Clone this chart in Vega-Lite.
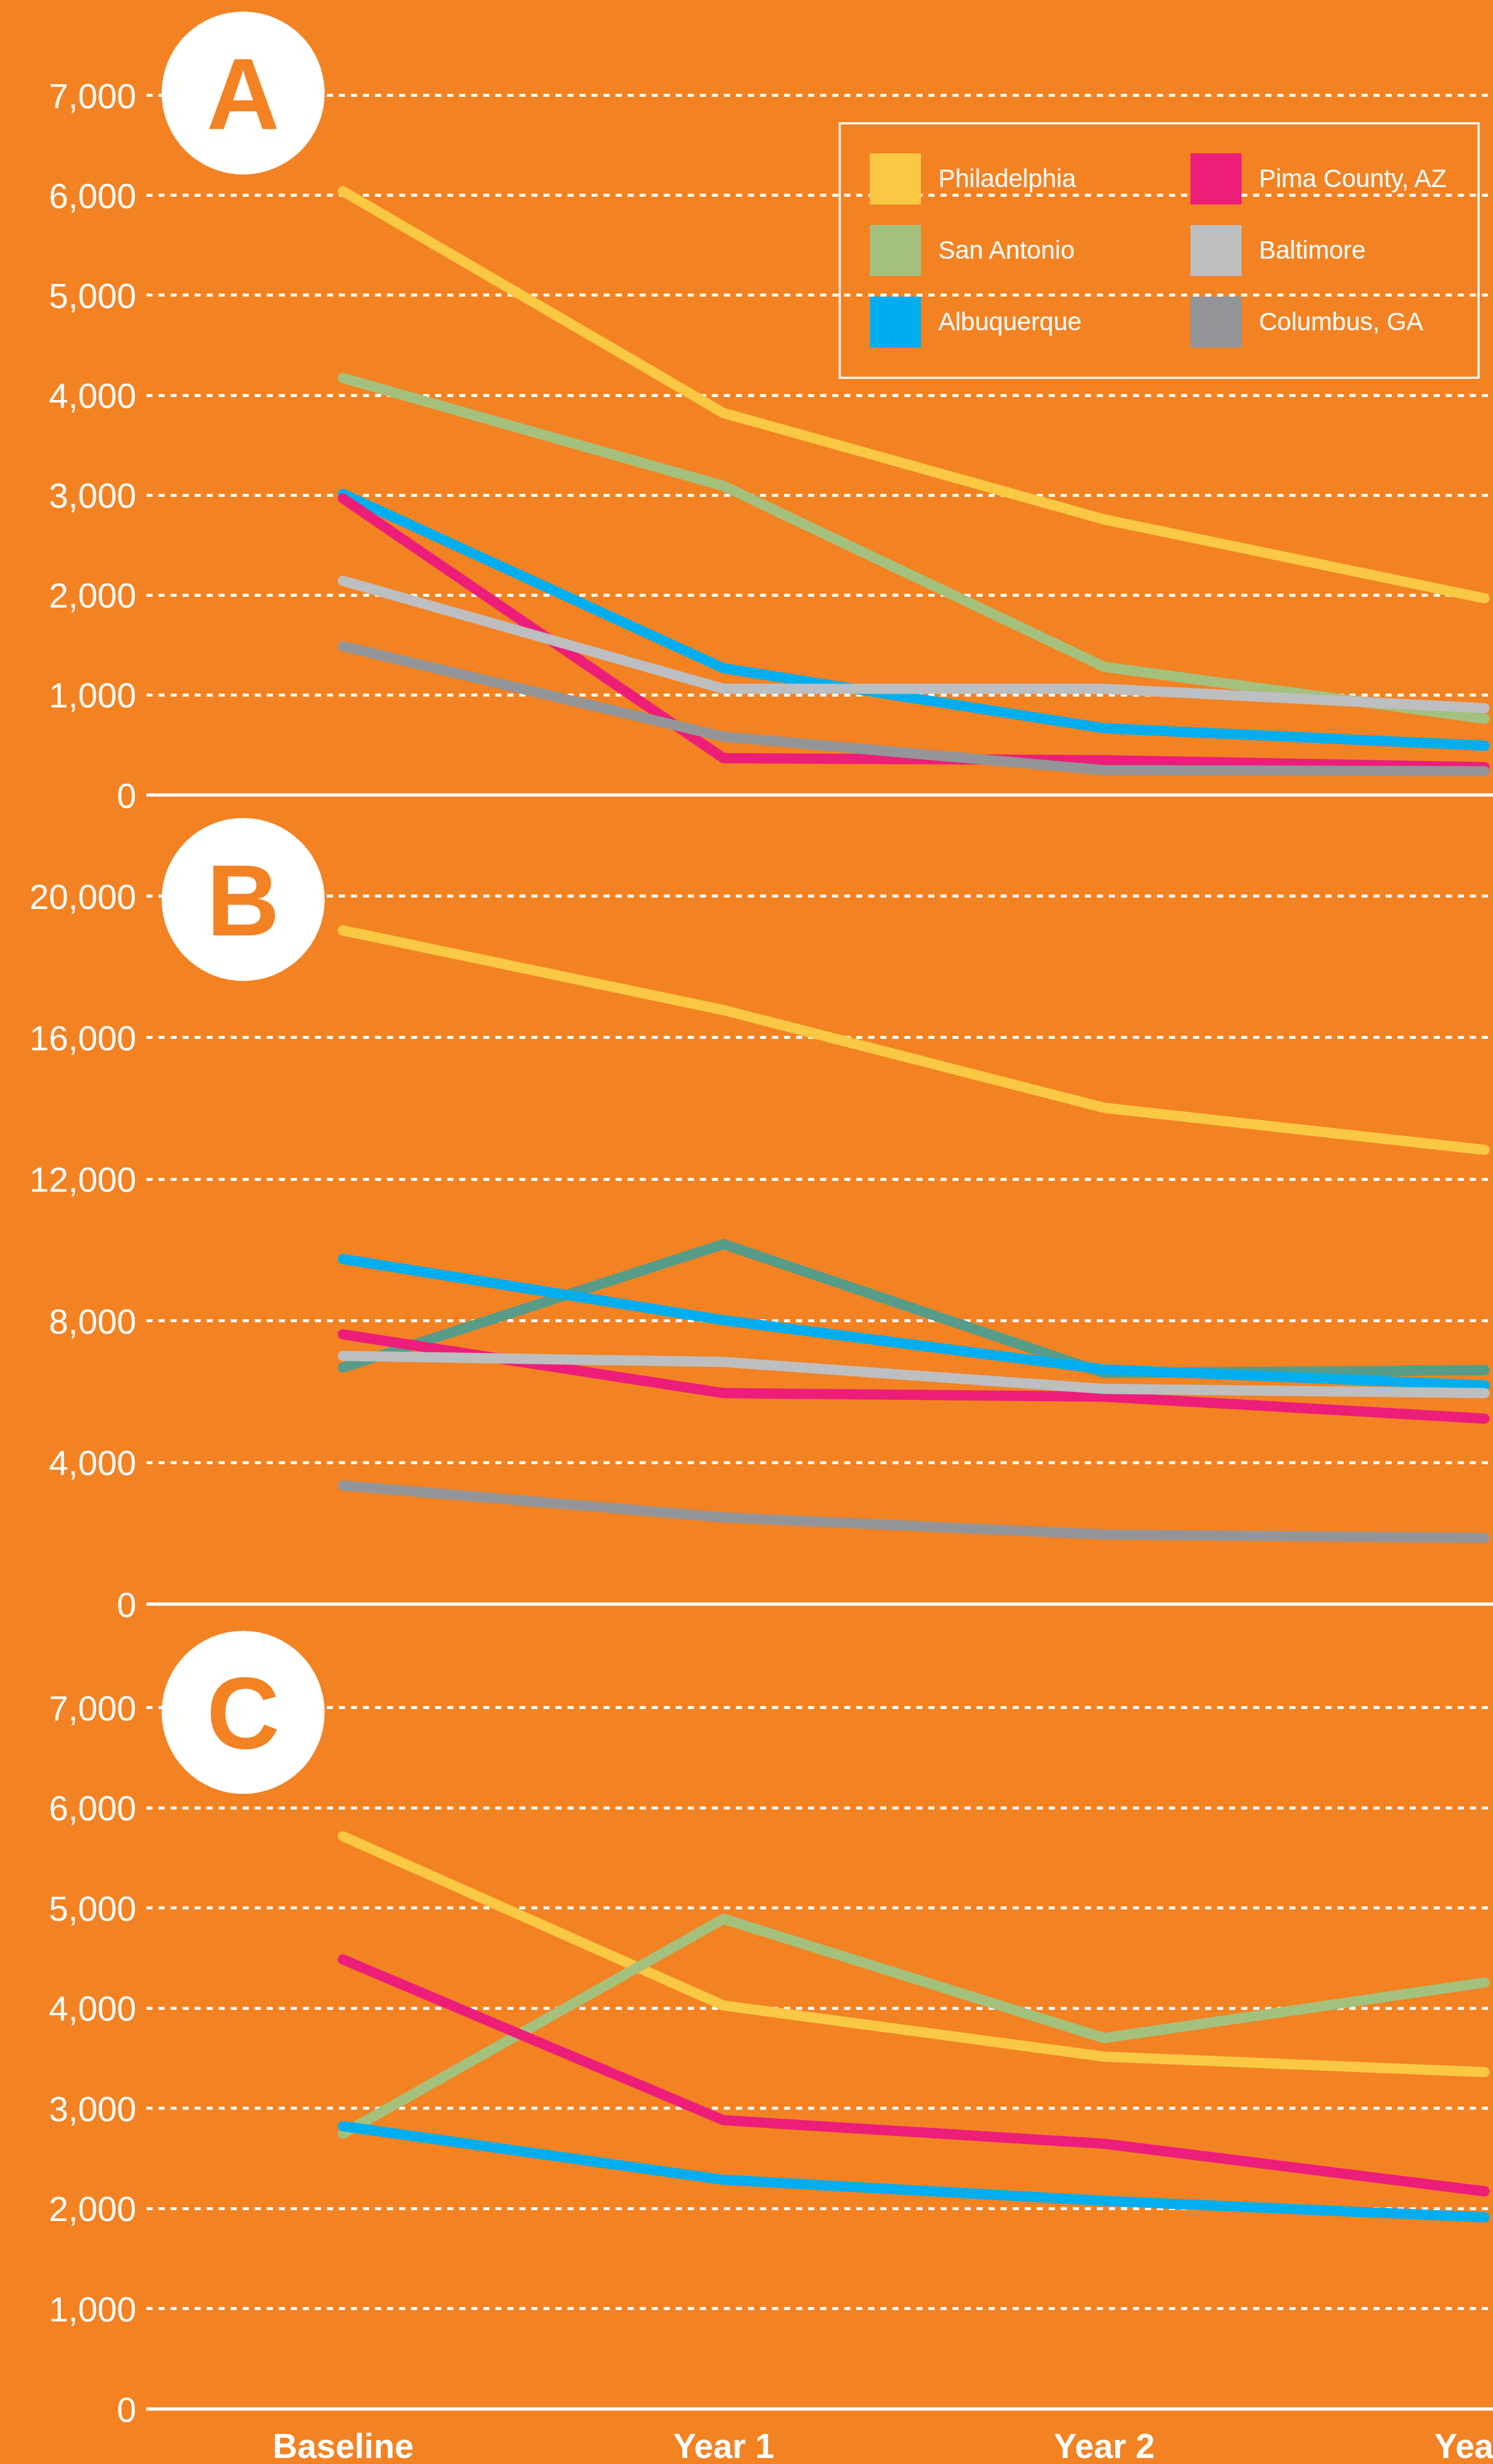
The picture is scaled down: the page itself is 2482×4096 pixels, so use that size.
{
  "$schema": "https://vega.github.io/schema/vega-lite/v6.json",
  "background": "#F38223",
  "padding": {"left": 48, "top": 0, "right": 0, "bottom": 0},
  "bounds": "flush",
  "spacing": 0,
  "data": {"values": [
    {"panel": "A", "city": "Philadelphia", "year": 0, "value": 6040},
    {"panel": "A", "city": "Philadelphia", "year": 1, "value": 3820},
    {"panel": "A", "city": "Philadelphia", "year": 2, "value": 2755},
    {"panel": "A", "city": "Philadelphia", "year": 3, "value": 1965},
    {"panel": "A", "city": "San Antonio", "year": 0, "value": 4170},
    {"panel": "A", "city": "San Antonio", "year": 1, "value": 3090},
    {"panel": "A", "city": "San Antonio", "year": 2, "value": 1280},
    {"panel": "A", "city": "San Antonio", "year": 3, "value": 760},
    {"panel": "A", "city": "Albuquerque", "year": 0, "value": 3010},
    {"panel": "A", "city": "Albuquerque", "year": 1, "value": 1265},
    {"panel": "A", "city": "Albuquerque", "year": 2, "value": 665},
    {"panel": "A", "city": "Albuquerque", "year": 3, "value": 490},
    {"panel": "A", "city": "Pima County, AZ", "year": 0, "value": 2965},
    {"panel": "A", "city": "Pima County, AZ", "year": 1, "value": 365},
    {"panel": "A", "city": "Pima County, AZ", "year": 2, "value": 345},
    {"panel": "A", "city": "Pima County, AZ", "year": 3, "value": 275},
    {"panel": "A", "city": "Baltimore", "year": 0, "value": 2140},
    {"panel": "A", "city": "Baltimore", "year": 1, "value": 1060},
    {"panel": "A", "city": "Baltimore", "year": 2, "value": 1060},
    {"panel": "A", "city": "Baltimore", "year": 3, "value": 865},
    {"panel": "A", "city": "Columbus, GA", "year": 0, "value": 1485},
    {"panel": "A", "city": "Columbus, GA", "year": 1, "value": 580},
    {"panel": "A", "city": "Columbus, GA", "year": 2, "value": 245},
    {"panel": "A", "city": "Columbus, GA", "year": 3, "value": 235},
    {"panel": "B", "city": "Philadelphia", "year": 0, "value": 19020},
    {"panel": "B", "city": "Philadelphia", "year": 1, "value": 16770},
    {"panel": "B", "city": "Philadelphia", "year": 2, "value": 14010},
    {"panel": "B", "city": "Philadelphia", "year": 3, "value": 12820},
    {"panel": "B", "city": "San Antonio", "year": 0, "value": 6670},
    {"panel": "B", "city": "San Antonio", "year": 1, "value": 10160},
    {"panel": "B", "city": "San Antonio", "year": 2, "value": 6520},
    {"panel": "B", "city": "San Antonio", "year": 3, "value": 6600},
    {"panel": "B", "city": "Albuquerque", "year": 0, "value": 9740},
    {"panel": "B", "city": "Albuquerque", "year": 1, "value": 8010},
    {"panel": "B", "city": "Albuquerque", "year": 2, "value": 6620},
    {"panel": "B", "city": "Albuquerque", "year": 3, "value": 6170},
    {"panel": "B", "city": "Pima County, AZ", "year": 0, "value": 7610},
    {"panel": "B", "city": "Pima County, AZ", "year": 1, "value": 5950},
    {"panel": "B", "city": "Pima County, AZ", "year": 2, "value": 5850},
    {"panel": "B", "city": "Pima County, AZ", "year": 3, "value": 5230},
    {"panel": "B", "city": "Baltimore", "year": 0, "value": 7000},
    {"panel": "B", "city": "Baltimore", "year": 1, "value": 6830},
    {"panel": "B", "city": "Baltimore", "year": 2, "value": 6070},
    {"panel": "B", "city": "Baltimore", "year": 3, "value": 5950},
    {"panel": "B", "city": "Columbus, GA", "year": 0, "value": 3340},
    {"panel": "B", "city": "Columbus, GA", "year": 1, "value": 2440},
    {"panel": "B", "city": "Columbus, GA", "year": 2, "value": 1955},
    {"panel": "B", "city": "Columbus, GA", "year": 3, "value": 1860},
    {"panel": "C", "city": "Philadelphia", "year": 0, "value": 5715},
    {"panel": "C", "city": "Philadelphia", "year": 1, "value": 4025},
    {"panel": "C", "city": "Philadelphia", "year": 2, "value": 3515},
    {"panel": "C", "city": "Philadelphia", "year": 3, "value": 3360},
    {"panel": "C", "city": "San Antonio", "year": 0, "value": 2745},
    {"panel": "C", "city": "San Antonio", "year": 1, "value": 4890},
    {"panel": "C", "city": "San Antonio", "year": 2, "value": 3700},
    {"panel": "C", "city": "San Antonio", "year": 3, "value": 4255},
    {"panel": "C", "city": "Albuquerque", "year": 0, "value": 2820},
    {"panel": "C", "city": "Albuquerque", "year": 1, "value": 2285},
    {"panel": "C", "city": "Albuquerque", "year": 2, "value": 2075},
    {"panel": "C", "city": "Albuquerque", "year": 3, "value": 1910},
    {"panel": "C", "city": "Pima County, AZ", "year": 0, "value": 4485},
    {"panel": "C", "city": "Pima County, AZ", "year": 1, "value": 2880},
    {"panel": "C", "city": "Pima County, AZ", "year": 2, "value": 2645},
    {"panel": "C", "city": "Pima County, AZ", "year": 3, "value": 2170}
  ]},
  "resolve": {"scale": {"y": "independent", "color": "independent"}, "legend": {"color": "independent"}},
  "vconcat": [
    {
      "width": 2240, "height": 1321,
      "layer": [
        {
          "transform": [{"filter": "datum.panel === 'A'"}],
          "mark": {"type": "line", "strokeWidth": 17, "strokeCap": "round", "strokeJoin": "miter"},
          "encoding": {
            "x": {"field": "year", "type": "quantitative", "scale": {"domain": [-0.5168, 3.0237], "nice": false, "zero": false},
                  "axis": {"title": null, "labels": false, "ticks": false, "grid": false, "domain": true, "domainColor": "white", "domainWidth": 5.5}},
            "y": {"field": "value", "type": "quantitative", "scale": {"domain": [0, 7953], "nice": false},
                  "axis": {"title": null, "values": [0, 1000, 2000, 3000, 4000, 5000, 6000, 7000], "format": ",d", "grid": true, "gridColor": "white", "gridWidth": 5, "gridDash": [10, 10], "domain": false, "ticks": false, "tickSize": 0, "labelFont": "Liberation Sans", "labelFontSize": 58, "labelColor": "white", "labelPadding": 17, "labelOffset": 4}},
            "color": {"field": "city", "type": "nominal",
                      "scale": {"domain": ["Philadelphia", "San Antonio", "Albuquerque", "Pima County, AZ", "Baltimore", "Columbus, GA"],
                                "range": ["#FAC843", "#A3C17D", "#00AEEF", "#ED1E79", "#BCBEC0", "#939598"]},
                      "legend": {"orient": "none", "legendX": 1153, "legendY": 205, "columns": 2, "title": null,
                                 "symbolType": "square", "symbolSize": 7225, "symbolStrokeWidth": 0, "symbolOpacity": 1,
                                 "labelFont": "Liberation Sans", "labelFontSize": 42, "labelColor": "white", "labelOffset": 29, "labelLimit": 600,
                                 "rowPadding": 34, "columnPadding": 180, "padding": 50, "strokeColor": "white",
                                 "encode": {
                                   "legend": {"update": {"strokeWidth": {"value": 3.5}}},
                                   "symbols": {"update": {
                                     "fill": {"signal": "{'Philadelphia': '#FAC843', 'San Antonio': '#A3C17D', 'Albuquerque': '#00AEEF', 'Pima County, AZ': '#ED1E79', 'Baltimore': '#BCBEC0', 'Columbus, GA': '#939598'}[datum.value]"},
                                     "fillOpacity": {"value": 1},
                                     "opacity": {"value": 1},
                                     "strokeWidth": {"value": 0}}}}}}
          }
        },
        {
          "data": {"values": [{"badge": "A"}]},
          "mark": {"type": "point", "shape": "circle", "filled": true, "color": "white", "opacity": 1, "size": 73441, "strokeWidth": 0},
          "encoding": {"x": {"datum": -0.262}, "y": {"datum": 7022}}
        },
        {
          "data": {"values": [{"badge": "A"}]},
          "mark": {"type": "text", "font": "Liberation Sans", "fontWeight": "bold", "fontSize": 168, "color": "#F38223", "align": "center", "baseline": "alphabetic", "dy": 60},
          "encoding": {"x": {"datum": -0.262}, "y": {"datum": 7022}, "text": {"field": "badge"}}
        }
      ]
    },
    {
      "width": 2240, "height": 1345,
      "layer": [
        {
          "transform": [{"filter": "datum.panel === 'B'"}],
          "mark": {"type": "line", "strokeWidth": 17, "strokeCap": "round", "strokeJoin": "miter"},
          "encoding": {
            "x": {"field": "year", "type": "quantitative", "scale": {"domain": [-0.5168, 3.0237], "nice": false, "zero": false},
                  "axis": {"title": null, "labels": false, "ticks": false, "grid": false, "domain": true, "domainColor": "white", "domainWidth": 5.5}},
            "y": {"field": "value", "type": "quantitative", "scale": {"domain": [0, 22855], "nice": false},
                  "axis": {"title": null, "values": [0, 4000, 8000, 12000, 16000, 20000], "format": ",d", "grid": true, "gridColor": "white", "gridWidth": 5, "gridDash": [10, 10], "domain": false, "ticks": false, "tickSize": 0, "labelFont": "Liberation Sans", "labelFontSize": 58, "labelColor": "white", "labelPadding": 17, "labelOffset": 4}},
            "color": {"field": "city", "type": "nominal",
                      "scale": {"domain": ["Philadelphia", "San Antonio", "Albuquerque", "Pima County, AZ", "Baltimore", "Columbus, GA"],
                                "range": ["#FAC843", "#A3C17D", "#00AEEF", "#ED1E79", "#BCBEC0", "#939598"]},
                      "legend": null,
                      "condition": {"test": "datum.city === 'San Antonio'", "value": "#569C88"}}
          }
        },
        {
          "data": {"values": [{"badge": "B"}]},
          "mark": {"type": "point", "shape": "circle", "filled": true, "color": "white", "opacity": 1, "size": 73441, "strokeWidth": 0},
          "encoding": {"x": {"datum": -0.262}, "y": {"datum": 19895}}
        },
        {
          "data": {"values": [{"badge": "B"}]},
          "mark": {"type": "text", "font": "Liberation Sans", "fontWeight": "bold", "fontSize": 168, "color": "#F38223", "align": "center", "baseline": "alphabetic", "dy": 60},
          "encoding": {"x": {"datum": -0.262}, "y": {"datum": 19895}, "text": {"field": "badge"}}
        }
      ]
    },
    {
      "width": 2240, "height": 1338,
      "layer": [
        {
          "transform": [{"filter": "datum.panel === 'C'"}],
          "mark": {"type": "line", "strokeWidth": 17, "strokeCap": "round", "strokeJoin": "miter"},
          "encoding": {
            "x": {"field": "year", "type": "quantitative", "scale": {"domain": [-0.5168, 3.0237], "nice": false, "zero": false},
                  "axis": {"title": null, "values": [0, 1, 2, 3], "labelExpr": "['Baseline', 'Year 1', 'Year 2', 'Year 3'][datum.value]", "ticks": false, "tickSize": 0, "grid": false, "domain": true, "domainColor": "white", "domainWidth": 5.5, "labelFont": "Liberation Sans", "labelFontWeight": "bold", "labelFontSize": 57, "labelColor": "white", "labelPadding": 36, "labelFlush": false, "labelOverlap": false, "labelLimit": 1000}},
            "y": {"field": "value", "type": "quantitative", "scale": {"domain": [0, 8036], "nice": false},
                  "axis": {"title": null, "values": [0, 1000, 2000, 3000, 4000, 5000, 6000, 7000], "format": ",d", "grid": true, "gridColor": "white", "gridWidth": 5, "gridDash": [10, 10], "domain": false, "ticks": false, "tickSize": 0, "labelFont": "Liberation Sans", "labelFontSize": 58, "labelColor": "white", "labelPadding": 17, "labelOffset": 4}},
            "color": {"field": "city", "type": "nominal",
                      "scale": {"domain": ["Philadelphia", "San Antonio", "Albuquerque", "Pima County, AZ", "Baltimore", "Columbus, GA"],
                                "range": ["#FAC843", "#A3C17D", "#00AEEF", "#ED1E79", "#BCBEC0", "#939598"]},
                      "legend": null}
          }
        },
        {
          "data": {"values": [{"badge": "C"}]},
          "mark": {"type": "point", "shape": "circle", "filled": true, "color": "white", "opacity": 1, "size": 73441, "strokeWidth": 0},
          "encoding": {"x": {"datum": -0.262}, "y": {"datum": 6952}}
        },
        {
          "data": {"values": [{"badge": "C"}]},
          "mark": {"type": "text", "font": "Liberation Sans", "fontWeight": "bold", "fontSize": 168, "color": "#F38223", "align": "center", "baseline": "alphabetic", "dy": 60},
          "encoding": {"x": {"datum": -0.262}, "y": {"datum": 6952}, "text": {"field": "badge"}}
        }
      ]
    }
  ],
  "config": {
    "view": {"stroke": null},
    "font": "Liberation Sans",
    "axis": {"domainColor": "white", "gridColor": "white", "labelColor": "white"}
  }
}
